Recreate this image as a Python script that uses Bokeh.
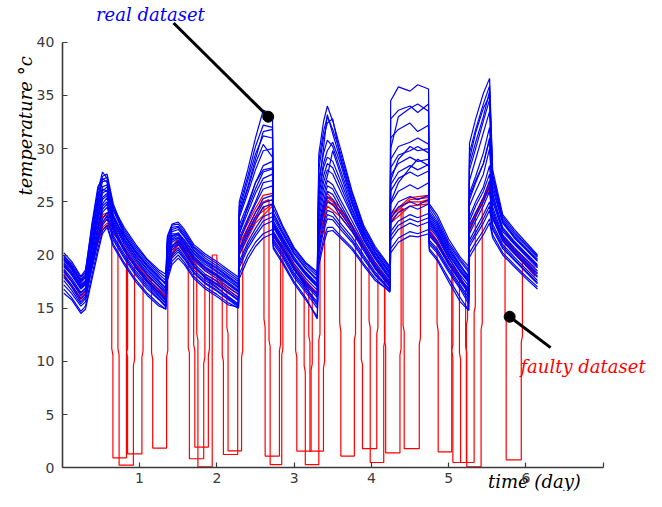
import math
from bokeh.plotting import figure
from bokeh.models import Range1d, FixedTicker
from bokeh.core.properties import value
from bokeh.embed import file_html
from bokeh.resources import INLINE

# ---------------- data ----------------
t_days = [0.02, 0.12, 0.24, 0.30, 0.38, 0.46, 0.52, 0.58, 0.66, 0.80, 0.95, 1.10, 1.25, 1.34,
          1.36, 1.42, 1.50, 1.58, 1.70, 1.85, 2.00, 2.15, 2.28,
          2.29, 2.40, 2.50, 2.60, 2.72, 2.73, 2.85, 3.00, 3.15, 3.30,
          3.32, 3.38, 3.43, 3.50, 3.60, 3.75, 3.90, 4.05, 4.24,
          4.25, 4.35, 4.50, 4.60, 4.74, 4.75, 4.85, 5.00, 5.15, 5.26,
          5.27, 5.35, 5.45, 5.53, 5.57, 5.70, 5.85, 6.00, 6.15]

sensor_a = [20.2, 19.4, 18.0, 18.6, 22.5, 26.0, 27.8, 27.2, 24.5, 22.6, 21.0, 19.6, 18.6, 18.2,
            21.8, 22.9, 23.1, 22.4, 21.0, 20.1, 19.4, 18.6, 17.9,
            25.0, 28.0, 31.0, 33.6, 33.3, 24.8, 22.8, 20.7, 19.3, 18.4,
            29.5, 32.5, 34.0, 32.6, 30.0, 26.0, 22.8, 20.8, 18.9,
            34.5, 35.8, 35.4, 36.0, 35.6, 24.8, 23.8, 21.5, 19.8, 18.9,
            30.5, 32.8, 35.2, 36.6, 28.0, 23.8, 22.4, 21.2, 20.0]
sensor_b = [20.0, 19.0, 17.7, 18.2, 22.0, 25.6, 27.4, 27.6, 24.8, 22.2, 20.6, 19.3, 18.2, 17.6,
            21.3, 22.6, 22.7, 22.0, 20.7, 19.7, 19.0, 18.2, 17.5,
            24.2, 27.0, 29.5, 31.2, 31.0, 24.0, 22.3, 20.4, 19.0, 18.0,
            28.0, 31.0, 32.4, 32.8, 29.2, 25.5, 22.4, 20.5, 18.6,
            31.0, 31.8, 32.4, 31.6, 32.2, 24.3, 23.2, 21.0, 19.4, 18.4,
            28.5, 30.6, 33.0, 35.4, 27.0, 23.4, 22.0, 20.9, 19.8]
sensor_c = [19.7, 18.8, 17.4, 17.9, 21.5, 25.0, 26.9, 27.0, 24.2, 21.9, 20.3, 19.0, 17.9, 17.2,
            21.0, 22.2, 22.4, 21.7, 20.4, 19.4, 18.7, 17.9, 17.2,
            23.5, 25.8, 28.0, 29.8, 30.0, 23.5, 22.0, 20.1, 18.7, 17.6,
            27.0, 29.5, 30.8, 30.2, 28.0, 24.8, 22.0, 20.2, 18.3,
            29.0, 30.2, 30.6, 31.0, 30.4, 23.8, 22.8, 20.6, 19.0, 18.0,
            27.0, 29.0, 31.5, 33.5, 26.2, 23.0, 21.6, 20.5, 19.4]
sensor_d = [19.5, 18.6, 17.2, 17.6, 21.0, 24.4, 26.4, 26.6, 23.8, 21.6, 20.0, 18.7, 17.6, 16.9,
            20.6, 21.8, 22.1, 21.4, 20.1, 19.1, 18.4, 17.6, 16.9,
            22.8, 24.8, 26.8, 28.4, 28.8, 23.2, 21.7, 19.8, 18.4, 17.3,
            25.5, 28.2, 29.2, 28.8, 27.0, 24.2, 21.7, 19.9, 18.0,
            27.5, 28.6, 29.2, 28.8, 29.0, 23.4, 22.4, 20.3, 18.7, 17.7,
            25.8, 27.4, 29.6, 32.0, 25.6, 22.6, 21.3, 20.2, 19.1]
sensor_e = [19.3, 18.4, 17.0, 17.4, 20.6, 23.8, 25.8, 26.1, 23.4, 21.3, 19.7, 18.4, 17.3, 16.6,
            20.2, 21.5, 21.9, 21.1, 19.8, 18.8, 18.1, 17.3, 16.6,
            22.0, 24.0, 25.8, 27.2, 27.6, 22.9, 21.4, 19.5, 18.1, 17.0,
            24.5, 26.8, 28.0, 27.6, 26.0, 23.7, 21.4, 19.6, 17.7,
            26.0, 27.2, 27.8, 27.4, 27.9, 23.0, 22.0, 20.0, 18.4, 17.4,
            24.6, 26.0, 27.6, 30.0, 25.0, 22.2, 21.0, 19.9, 18.8]
sensor_f = [19.0, 18.1, 16.8, 17.2, 20.2, 23.2, 25.2, 25.6, 23.0, 21.0, 19.4, 18.1, 17.0, 16.3,
            19.8, 21.2, 21.6, 20.8, 19.5, 18.5, 17.8, 17.0, 16.3,
            21.2, 23.2, 24.8, 26.2, 26.5, 22.6, 21.1, 19.2, 17.8, 16.7,
            23.5, 25.6, 27.0, 26.6, 25.2, 23.2, 21.1, 19.3, 17.5,
            24.8, 26.0, 26.6, 26.2, 26.8, 22.6, 21.7, 19.7, 18.1, 17.1,
            23.6, 25.0, 26.4, 28.4, 24.5, 21.9, 20.7, 19.6, 18.5]
sensor_g = [18.7, 17.8, 16.5, 16.9, 19.8, 22.7, 24.6, 25.0, 22.6, 20.7, 19.1, 17.8, 16.7, 16.0,
            19.4, 20.9, 21.3, 20.5, 19.2, 18.2, 17.5, 16.7, 16.0,
            20.6, 22.5, 24.0, 25.3, 25.6, 22.2, 20.8, 18.9, 17.5, 16.4,
            22.6, 24.6, 26.0, 25.7, 24.4, 22.7, 20.8, 19.0, 17.3,
            23.8, 25.0, 25.5, 25.2, 25.6, 22.2, 21.3, 19.4, 17.8, 16.8,
            22.8, 24.0, 25.4, 27.0, 23.9, 21.6, 20.4, 19.3, 18.2]
sensor_h = [18.4, 17.5, 16.2, 16.6, 19.4, 22.2, 24.0, 24.5, 22.2, 20.4, 18.8, 17.5, 16.4, 15.7,
            19.0, 20.5, 21.0, 20.2, 18.9, 17.9, 17.2, 16.4, 15.7,
            20.0, 21.8, 23.2, 24.5, 24.8, 21.8, 20.5, 18.6, 17.2, 16.0,
            21.8, 23.8, 25.0, 24.8, 23.6, 22.2, 20.4, 18.7, 17.0,
            23.0, 24.0, 24.6, 24.3, 24.8, 21.8, 21.0, 19.1, 17.5, 16.4,
            22.0, 23.2, 24.6, 26.0, 23.4, 21.3, 20.1, 19.0, 17.9]
sensor_i = [18.1, 17.2, 15.9, 16.3, 19.0, 21.7, 23.4, 24.0, 21.8, 20.1, 18.5, 17.2, 16.1, 15.4,
            18.6, 20.1, 20.7, 19.9, 18.6, 17.6, 16.9, 16.1, 15.4,
            19.4, 21.2, 22.5, 23.6, 24.0, 21.5, 20.2, 18.3, 16.9, 15.6,
            21.0, 23.0, 24.2, 24.0, 23.0, 21.7, 20.0, 18.4, 16.8,
            22.2, 23.2, 23.8, 23.5, 23.9, 21.4, 20.6, 18.8, 17.2, 16.0,
            21.4, 22.5, 23.8, 25.0, 22.9, 21.0, 19.8, 18.7, 17.6]
sensor_j = [17.6, 16.7, 15.4, 15.9, 18.6, 21.2, 22.8, 23.4, 21.4, 19.7, 18.1, 16.8, 15.8, 15.1,
            18.2, 19.7, 20.3, 19.6, 18.3, 17.3, 16.6, 15.8, 15.1,
            18.8, 20.6, 21.8, 22.8, 23.2, 21.1, 19.8, 17.9, 16.5, 15.0,
            20.2, 22.2, 23.4, 23.3, 22.4, 21.2, 19.6, 18.1, 16.7,
            21.4, 22.4, 23.0, 22.7, 23.1, 21.0, 20.2, 18.4, 16.8, 15.4,
            20.8, 21.8, 23.0, 24.2, 22.4, 20.6, 19.5, 18.4, 17.3]
sensor_k = [16.8, 16.0, 14.7, 15.2, 18.0, 20.6, 22.3, 22.8, 21.0, 19.3, 17.7, 16.4, 15.4, 14.9,
            17.9, 19.4, 20.0, 19.3, 18.0, 17.0, 16.3, 15.5, 15.0,
            18.2, 20.0, 21.2, 22.0, 22.4, 20.8, 19.4, 17.5, 16.0, 14.0,
            19.5, 21.5, 22.6, 22.6, 21.8, 20.7, 19.2, 17.8, 16.5,
            20.6, 21.6, 22.2, 22.0, 22.4, 20.6, 19.7, 17.8, 16.0, 14.8,
            20.2, 21.2, 22.3, 23.4, 21.9, 20.2, 19.1, 18.0, 17.0]
sensor_l = [19.8, 19.0, 17.6, 18.0, 21.8, 24.8, 26.2, 26.0, 23.6, 21.8, 20.2, 18.9, 17.8, 17.4,
            20.8, 22.0, 22.0, 21.4, 20.2, 19.3, 18.5, 17.8, 17.0,
            21.6, 23.4, 25.0, 26.8, 27.0, 22.8, 21.2, 19.6, 18.3, 17.2,
            26.5, 30.0, 33.2, 31.4, 29.0, 25.2, 22.2, 20.1, 18.2,
            25.0, 26.8, 28.2, 29.0, 28.4, 23.2, 22.2, 20.1, 18.5, 17.6,
            29.0, 31.5, 33.8, 35.0, 27.4, 23.2, 21.8, 20.7, 19.6]
sensor_m = [18.9, 18.2, 16.9, 17.3, 20.4, 23.5, 25.4, 25.8, 23.2, 21.2, 19.6, 18.2, 17.1, 16.5,
            20.0, 21.4, 21.7, 21.0, 19.7, 18.7, 18.0, 17.2, 16.5,
            23.8, 26.2, 28.6, 30.4, 29.2, 23.0, 21.5, 19.6, 18.2, 17.0,
            24.0, 26.2, 27.4, 29.8, 27.6, 24.4, 21.8, 19.8, 17.8,
            30.0, 33.0, 33.8, 34.2, 33.5, 24.0, 23.0, 20.8, 19.1, 17.9,
            25.5, 27.0, 28.6, 30.8, 25.8, 22.4, 21.2, 20.1, 19.0]
sensor_n = [17.2, 16.4, 15.2, 15.6, 19.2, 22.6, 24.8, 25.4, 22.8, 20.5, 18.8, 17.4, 16.2, 15.5,
            19.2, 20.8, 21.4, 20.6, 19.0, 17.8, 17.0, 16.0, 15.3,
            22.0, 24.6, 26.8, 28.0, 28.2, 22.0, 20.6, 18.7, 17.0, 15.3,
            23.0, 25.0, 26.5, 26.2, 24.8, 22.8, 20.7, 19.0, 17.2,
            27.0, 29.0, 30.2, 29.8, 30.0, 22.8, 21.9, 19.8, 18.0, 16.2,
            23.2, 24.6, 26.0, 27.6, 24.2, 21.7, 20.5, 19.4, 18.3]
sensor_o = [19.9, 19.2, 17.9, 18.4, 22.8, 26.4, 27.2, 26.8, 24.2, 22.4, 20.8, 19.5, 18.4, 17.9,
            21.6, 22.8, 22.9, 22.2, 20.8, 19.9, 19.2, 18.4, 17.7,
            24.6, 27.4, 30.2, 32.2, 32.0, 24.4, 22.6, 20.6, 19.2, 18.2,
            28.8, 31.6, 33.0, 31.8, 29.6, 25.8, 22.6, 20.6, 18.8,
            32.8, 33.6, 34.0, 33.4, 34.2, 24.6, 23.5, 21.2, 19.6, 18.6,
            29.6, 31.8, 34.2, 35.9, 27.6, 23.6, 22.2, 21.0, 19.9]
sensor_p = [19.1, 18.3, 17.1, 17.5, 20.9, 24.1, 26.0, 26.4, 23.6, 21.5, 19.9, 18.6, 17.5, 16.8,
            20.4, 21.7, 22.0, 21.2, 19.9, 18.9, 18.2, 17.4, 16.7,
            22.4, 24.4, 26.2, 27.8, 28.1, 23.0, 21.5, 19.6, 18.2, 17.1,
            25.0, 27.4, 28.6, 28.2, 26.5, 23.9, 21.5, 19.7, 17.8,
            26.6, 27.8, 28.4, 28.0, 28.5, 23.2, 22.2, 20.1, 18.5, 17.5,
            25.2, 26.8, 28.6, 31.0, 25.3, 22.4, 21.1, 20.0, 18.9]
sensor_q = [18.5, 17.6, 16.4, 16.8, 19.6, 22.4, 24.3, 24.8, 22.4, 20.5, 18.9, 17.6, 16.5, 15.8,
            19.2, 20.7, 21.1, 20.3, 19.0, 18.0, 17.3, 16.5, 15.8,
            20.3, 22.1, 23.6, 24.9, 25.2, 22.0, 20.6, 18.7, 17.3, 16.2,
            22.2, 24.2, 25.5, 25.2, 24.0, 22.4, 20.6, 18.8, 17.1,
            23.4, 24.5, 25.0, 24.7, 25.2, 22.0, 21.1, 19.2, 17.6, 16.6,
            22.4, 23.6, 25.0, 26.5, 23.6, 21.4, 20.2, 19.1, 18.0]
sensor_r = [17.9, 17.0, 15.6, 16.1, 18.8, 21.4, 23.1, 23.7, 21.6, 19.9, 18.3, 17.0, 15.9, 15.2,
            18.4, 19.9, 20.5, 19.7, 18.4, 17.4, 16.7, 15.9, 15.2,
            19.1, 20.9, 22.1, 23.2, 23.6, 21.3, 20.0, 18.1, 16.7, 15.3,
            20.6, 22.6, 23.8, 23.6, 22.7, 21.4, 19.8, 18.2, 16.7,
            21.8, 22.8, 23.4, 23.1, 23.5, 21.2, 20.4, 18.6, 17.0, 15.7,
            21.1, 22.1, 23.4, 24.6, 22.6, 20.8, 19.6, 18.5, 17.4]
sensor_s = [19.6, 18.9, 17.5, 17.9, 21.8, 25.3, 27.1, 27.3, 24.5, 22.0, 20.4, 19.1, 18.0, 17.3,
            21.2, 22.4, 22.6, 21.8, 20.5, 19.5, 18.8, 18.0, 17.3,
            23.9, 26.4, 29.0, 31.6, 31.8, 23.8, 22.1, 20.2, 18.8, 17.7,
            26.0, 28.6, 29.8, 30.6, 28.6, 25.0, 22.1, 20.3, 18.4,
            28.2, 29.4, 29.8, 30.2, 29.6, 23.6, 22.6, 20.5, 18.9, 17.9,
            28.0, 30.0, 32.6, 34.6, 26.6, 23.1, 21.7, 20.6, 19.5]
sensor_t = [16.4, 15.8, 14.5, 14.9, 17.6, 20.2, 22.0, 22.6, 20.8, 19.1, 17.5, 16.2, 15.2, 14.9,
            17.6, 19.1, 19.7, 19.1, 17.8, 16.8, 16.1, 15.3, 15.1,
            17.8, 19.6, 20.8, 21.6, 22.0, 20.6, 19.2, 17.3, 15.8, 14.2,
            19.0, 21.0, 22.2, 22.3, 21.6, 20.5, 19.0, 17.6, 16.6,
            20.2, 21.2, 21.8, 21.7, 22.0, 20.4, 19.5, 17.5, 15.6, 14.8,
            19.8, 20.8, 21.9, 23.0, 21.6, 20.0, 18.9, 17.8, 16.8]

faulty_1_x = [0.02, 0.24, 0.30, 0.52, 0.58,
              0.64, 0.64, 0.655, 0.655, 0.83, 0.83, 0.845, 0.845,
              0.95, 1.10, 1.25, 1.34, 1.36, 1.50, 1.58,
              1.63, 1.63, 1.645, 1.645, 1.83, 1.83, 1.845, 1.845,
              2.00, 2.15, 2.28, 2.29, 2.40, 2.50,
              2.61, 2.61, 2.625, 2.625, 2.81, 2.81, 2.825, 2.825,
              3.00, 3.15, 3.30, 3.32, 3.43, 3.50,
              3.59, 3.59, 3.605, 3.605, 3.78, 3.78, 3.795, 3.795,
              3.90, 4.05, 4.24, 4.25, 4.50, 4.74, 4.75,
              4.85, 4.85, 4.865, 4.865, 5.04, 5.04, 5.055, 5.055,
              5.15, 5.26, 5.27, 5.45, 5.53, 5.57, 5.70,
              5.73, 5.73, 5.745, 5.745, 5.94, 5.94, 5.955, 5.955,
              6.00, 6.12]
faulty_1_y = [19.2, 17.3, 17.5, 22.6, 23.0,
              22.2, 11.2, 10.6, 0.94, 0.94, 10.8, 11.2, 19.8,
              18.9, 17.8, 16.8, 16.2, 19.5, 21.0, 20.4,
              20.0, 11.3, 10.8, 0.85, 0.85, 9.8, 10.4, 18.2,
              17.6, 16.9, 16.3, 20.5, 22.0, 23.4,
              24.6, 14.0, 13.2, 1.1, 1.1, 11.0, 11.6, 21.2,
              19.0, 17.6, 16.4, 22.6, 25.4, 25.0,
              24.2, 13.6, 12.8, 1.1, 1.1, 12.0, 12.6, 22.0,
              20.8, 19.1, 17.4, 23.6, 25.2, 25.4, 22.2,
              21.3, 13.6, 12.8, 1.5, 1.5, 11.0, 11.6, 19.0,
              17.8, 16.8, 22.6, 25.4, 26.2, 23.8, 21.8,
              21.5, 14.5, 13.8, 0.75, 0.75, 11.8, 12.4, 19.6,
              19.3, 18.4]

faulty_2_x = [0.02, 0.24, 0.30, 0.52, 0.60, 0.66,
              0.72, 0.72, 0.735, 0.735, 0.92, 0.92, 0.935, 0.935,
              1.10, 1.25, 1.34, 1.36, 1.50, 1.60,
              1.70, 1.70, 1.715, 1.715, 1.89, 1.89, 1.905, 1.905,
              2.00, 2.15, 2.28, 2.29, 2.50, 2.60,
              2.675, 2.675, 2.69, 2.69, 2.84, 2.84, 2.855, 2.855,
              3.00, 3.15, 3.30, 3.32, 3.43, 3.60, 3.75,
              3.87, 3.87, 3.885, 3.885, 4.07, 4.07, 4.085, 4.085,
              4.24, 4.25, 4.50, 4.74, 4.75, 4.85, 4.95,
              5.04, 5.04, 5.055, 5.055, 5.23, 5.23, 5.245, 5.245,
              5.27, 5.45, 5.53, 5.57, 5.70, 5.85, 6.00, 6.12]
faulty_2_y = [18.6, 16.2, 16.6, 23.6, 23.8, 22.8,
              21.8, 11.2, 10.6, 0.25, 0.25, 9.6, 10.2, 19.0,
              17.6, 16.5, 15.9, 19.0, 21.4, 20.6,
              19.2, 11.6, 11.0, 1.95, 1.95, 10.6, 11.2, 17.6,
              17.2, 16.5, 15.8, 21.0, 24.0, 25.0,
              25.2, 12.0, 11.4, 0.3, 0.3, 10.6, 11.2, 20.8,
              18.9, 17.4, 16.2, 21.6, 24.6, 23.6, 22.2,
              20.9, 10.2, 9.7, 1.8, 1.8, 12.6, 13.2, 18.7,
              17.0, 23.0, 24.6, 24.8, 21.8, 21.0, 19.8,
              19.0, 11.0, 10.4, 0.5, 0.5, 13.4, 14.0, 16.8,
              22.8, 25.0, 26.6, 23.4, 21.6, 20.4, 19.2, 18.2]

faulty_3_x = [0.02, 0.24, 0.30, 0.52, 0.58, 0.70, 0.80,
              0.83, 0.83, 0.845, 0.845, 1.03, 1.03, 1.045, 1.045,
              1.10, 1.25, 1.34, 1.36, 1.50, 1.60, 1.70,
              1.74, 1.74, 1.755, 1.755, 1.94, 1.94, 2.00, 2.005,
              2.15, 2.28, 2.29, 2.50, 2.72, 2.73, 2.85,
              3.02, 3.02, 3.035, 3.035, 3.22, 3.22, 3.235, 3.235,
              3.30, 3.32, 3.43, 3.60, 3.75, 3.90,
              3.97, 3.97, 3.985, 3.985, 4.16, 4.16, 4.175, 4.175,
              4.24, 4.25, 4.50, 4.74, 4.75, 4.85, 5.00,
              5.14, 5.14, 5.155, 5.155, 5.33, 5.33, 5.345, 5.345,
              5.45, 5.53, 5.57, 5.70, 5.85, 6.00, 6.12]
faulty_3_y = [18.2, 15.8, 16.3, 23.0, 23.6, 21.8, 20.6,
              20.2, 11.0, 10.4, 1.3, 1.3, 10.4, 11.0, 18.2,
              17.8, 16.7, 16.0, 19.4, 21.2, 20.4, 19.4,
              19.0, 12.6, 12.0, 0.1, 0.1, 20.0, 20.0, 17.4,
              16.7, 16.0, 20.0, 23.0, 24.6, 21.8, 20.4,
              18.6, 11.0, 10.4, 1.57, 1.57, 9.2, 9.8, 16.8,
              16.3, 22.0, 25.0, 24.2, 22.6, 20.6,
              19.8, 13.8, 13.2, 0.5, 0.5, 11.4, 12.0, 17.8,
              17.3, 23.8, 25.4, 25.6, 22.4, 21.4, 19.4,
              17.8, 10.8, 10.2, 0.5, 0.5, 14.6, 15.2, 23.8,
              25.2, 26.4, 23.6, 21.4, 20.2, 19.0, 18.0]

faulty_4_x = [0.02, 0.24, 0.30, 0.52, 0.58, 0.66, 0.80, 0.95, 1.10,
              1.155, 1.155, 1.17, 1.17, 1.35, 1.35, 1.365, 1.365,
              1.50, 1.70, 1.85, 2.00,
              2.07, 2.07, 2.085, 2.085, 2.27, 2.27, 2.28, 2.29,
              2.50, 2.60, 2.72, 2.73, 2.85, 3.00,
              3.13, 3.13, 3.145, 3.145, 3.32, 3.32, 3.335, 3.335,
              3.43, 3.60, 3.75, 3.90, 4.05,
              4.17, 4.17, 4.185, 4.185, 4.37, 4.37, 4.385, 4.385,
              4.50, 4.74, 4.75, 4.85, 5.00, 5.15,
              5.22, 5.22, 5.235, 5.235, 5.42, 5.42, 5.435, 5.435,
              5.53, 5.57, 5.70, 5.85, 6.00, 6.12]
faulty_4_y = [19.6, 17.6, 18.0, 22.4, 22.8, 22.0, 20.8, 19.2, 18.0,
              17.6, 10.8, 10.2, 1.85, 1.85, 10.4, 11.0, 20.2,
              21.6, 19.6, 18.6, 18.0,
              17.5, 10.6, 10.0, 1.25, 1.25, 15.6, 16.0, 21.4,
              24.4, 25.6, 25.8, 22.2, 20.8, 19.0,
              17.6, 9.6, 9.0, 0.3, 0.3, 12.0, 12.6, 23.0,
              25.8, 24.4, 22.8, 21.0, 19.2,
              18.0, 12.0, 11.4, 1.4, 1.4, 10.6, 11.2, 24.6,
              25.0, 25.0, 22.0, 21.2, 19.4, 17.8,
              17.0, 11.4, 10.8, 0.1, 0.1, 13.0, 13.6, 25.2,
              26.0, 23.4, 21.8, 20.6, 19.6, 18.8]

faulty_5_x = [0.02, 0.24, 0.30, 0.52, 0.60, 0.80, 1.10, 1.34, 1.36, 1.50, 1.70, 1.85, 2.00,
              2.13, 2.13, 2.145, 2.145, 2.32, 2.32, 2.335, 2.335,
              2.50, 2.72, 2.73, 2.85, 3.00, 3.15,
              3.19, 3.19, 3.205, 3.205, 3.38, 3.38, 3.395, 3.395,
              3.43, 3.60, 3.75, 3.90, 4.05, 4.24, 4.25, 4.35,
              4.41, 4.41, 4.425, 4.425, 4.62, 4.62, 4.635, 4.635,
              4.74, 4.75, 4.85, 5.00, 5.15, 5.26, 5.27, 5.53, 5.57, 5.70, 5.85, 6.00, 6.12]
faulty_5_y = [18.0, 16.0, 16.4, 23.8, 24.0, 20.4, 17.5, 15.8, 19.0, 21.0, 18.8, 17.9, 17.2,
              16.6, 13.2, 12.6, 1.6, 1.6, 10.4, 11.0, 21.4,
              23.6, 24.8, 21.9, 20.5, 18.7, 17.2,
              16.8, 12.4, 11.8, 1.57, 1.57, 9.4, 10.0, 24.8,
              25.2, 24.0, 22.4, 20.6, 18.9, 17.2, 23.2, 24.0,
              24.4, 13.4, 12.8, 1.8, 1.8, 11.6, 12.2, 25.0,
              25.2, 22.0, 21.0, 19.2, 17.6, 16.6, 22.2, 26.8, 23.8, 21.6, 20.3, 19.2, 18.1]

y_ticks = [0, 5, 10, 15, 20, 25, 30, 35, 40]
x_ticks = [1, 2, 3, 4, 5, 6, 7]
x_tick_labels = {1: "1", 2: "2", 3: "3", 4: "4", 5: "5", 6: "6", 7: ""}

real_series = [sensor_a, sensor_b, sensor_c, sensor_d, sensor_e, sensor_f, sensor_g,
               sensor_h, sensor_i, sensor_j, sensor_k, sensor_l, sensor_m, sensor_n,
               sensor_o, sensor_p, sensor_q, sensor_r, sensor_s, sensor_t]
faulty_series = [(faulty_1_x, faulty_1_y), (faulty_2_x, faulty_2_y), (faulty_3_x, faulty_3_y),
                 (faulty_4_x, faulty_4_y), (faulty_5_x, faulty_5_y)]

# ---------------- figure ----------------
# the frame fills the canvas; the axes are pinned at x=0 / y=0 so that the
# annotation texts outside the axes box stay inside the (clipping) frame
p = figure(width=646, height=491, output_backend="svg", toolbar_location=None,
           x_range=Range1d(-0.800, 7.561), y_range=Range1d(-2.227, 43.92),
           min_border_left=0, min_border_right=0, min_border_top=0, min_border_bottom=0)
p.outline_line_color = None
p.xgrid.visible = False
p.ygrid.visible = False
p.background_fill_color = "white"
p.border_fill_color = "white"

for ax in (p.xaxis[0], p.yaxis[0]):
    ax.axis_line_color = "#3a3a3a"
    ax.axis_line_width = 1.6
    ax.major_tick_line_color = "#3a3a3a"
    ax.major_tick_line_width = 1.2
    ax.major_tick_in = 5
    ax.major_tick_out = 0
    ax.minor_tick_line_color = None
    ax.major_label_text_font = "DejaVu Sans"
    ax.major_label_text_font_size = "14px"
    ax.major_label_text_color = "#3a3a3a"
p.xaxis.fixed_location = 0
p.yaxis.fixed_location = 0
p.xaxis.bounds = (0, 7)
p.yaxis.bounds = (0, 40)
p.xaxis.ticker = FixedTicker(ticks=x_ticks)
p.xaxis.major_label_overrides = x_tick_labels
p.xaxis.major_label_standoff = 5
p.yaxis.ticker = FixedTicker(ticks=y_ticks)
p.yaxis.major_label_standoff = 8

for fx, fy in faulty_series:
    p.line(fx, fy, line_color="#ff0000", line_width=1.2)
for s in real_series:
    p.line(t_days, s, line_color="#0000ff", line_width=1.2)

# annotation pointers
p.segment(x0=[1.44, 5.79], y0=[41.8, 14.2], x1=[2.665, 6.32], y1=[33.0, 11.3],
          line_color="black", line_width=3)
p.scatter([2.665, 5.79], [33.0, 14.2], size=11, color="black")

serif = value("DejaVu Serif")
p.text(x=[1.14], y=[42.6], text=["real dataset"], text_color="#0000ff",
       text_font=serif, text_font_style="italic", text_font_size="18px",
       text_align="center", text_baseline="middle")
p.text(x=[6.74], y=[9.5], text=["faulty dataset"], text_color="#ff0000",
       text_font=serif, text_font_style="italic", text_font_size="18px",
       text_align="center", text_baseline="middle")
p.text(x=[6.11], y=[-1.25], text=["time (day)"], text_color="black",
       text_font=serif, text_font_style="italic", text_font_size="18px",
       text_align="center", text_baseline="middle")
p.text(x=[-0.47], y=[32.4], text=["temperature  \u00b0c"], text_color="black",
       angle=math.pi / 2,
       text_font=serif, text_font_style="italic", text_font_size="18px",
       text_align="center", text_baseline="middle")

open("out.html", "w").write(file_html(p, INLINE))
